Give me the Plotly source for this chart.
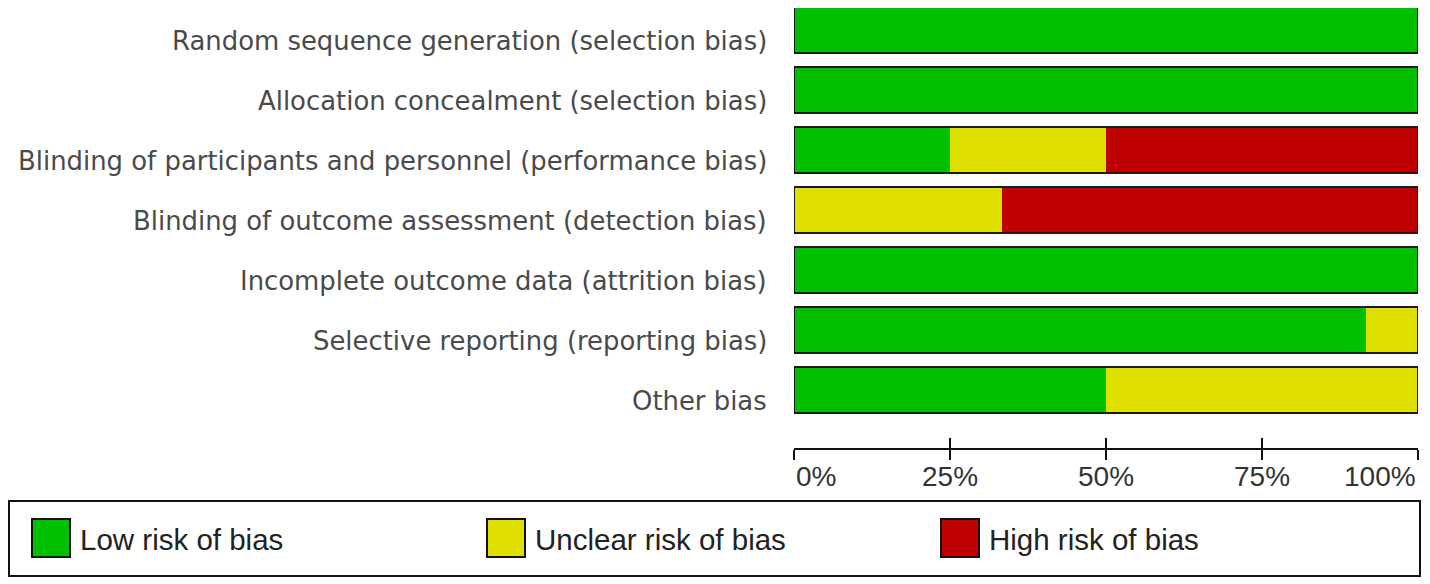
import plotly.graph_objects as go

# page body adds an 8px margin, so the figure is sized and placed to fit 1430x584
OFF = 8
W, H = 1430 - OFF, 584 - OFF

domains = [
    "Random sequence generation (selection bias)",
    "Allocation concealment (selection bias)",
    "Blinding of participants and personnel (performance bias)",
    "Blinding of outcome assessment (detection bias)",
    "Incomplete outcome data (attrition bias)",
    "Selective reporting (reporting bias)",
    "Other bias",
]
low = [100, 100, 25, 0, 100, 91.7, 50]
unclear = [0, 0, 25, 33.3, 0, 8.3, 50]
high = [0, 0, 50, 66.7, 0, 0, 0]

risk_names = ["Low risk of bias", "Unclear risk of bias", "High risk of bias"]
risk_colors = ["#00c000", "#e0e000", "#c00000"]

tick_vals = [0, 25, 50, 75, 100]
tick_text = ["0%", "25%", "50%", "75%", "100%"]

totals = [a + b + c for a, b, c in zip(low, unclear, high)]


def px_x(p):
    return (p - OFF) / W


def px_y(p):
    return (H - (p - OFF)) / H


bar_w = 0.77
fig = go.Figure()
for name, vals, col in zip(risk_names, [low, unclear, high], risk_colors):
    fig.add_trace(go.Bar(
        y=domains, x=vals, orientation="h", name=name,
        marker=dict(color=col, line=dict(width=0)),
        width=bar_w, showlegend=False, hoverinfo="x+y", cliponaxis=False,
    ))

# outline around each whole bar
fig.add_trace(go.Bar(
    y=domains, x=totals, orientation="h", xaxis="x2",
    marker=dict(color="rgba(0,0,0,0)", line=dict(color="#1a1a1a", width=2)),
    width=bar_w, showlegend=False, hoverinfo="skip", cliponaxis=False,
))

# rows are 60px apart, first row centred at y=30 on the page
row_px = 60
top_px, bot_px = OFF, 420
dom_x = [px_x(794), px_x(1418)]
dom_y = [px_y(bot_px), px_y(top_px)]
y_range = [(bot_px - 30) / row_px, (top_px - 30) / row_px]
axis_pos = px_y(449)

axis_common = dict(
    range=[0, 100], domain=dom_x, showgrid=False, zeroline=False,
    showline=True, linecolor="#111111", linewidth=2,
    tickvals=tick_vals, ticklen=10, tickwidth=2, tickcolor="#111111",
    showticklabels=False, anchor="free", position=axis_pos, fixedrange=True,
)

fig.update_layout(
    width=W, height=H,
    margin=dict(l=0, r=0, t=0, b=0),
    paper_bgcolor="white", plot_bgcolor="white",
    barmode="stack", bargap=0,
    xaxis=dict(ticks="outside", **axis_common),
    xaxis2=dict(ticks="inside", overlaying="x", side="bottom", **axis_common),
    yaxis=dict(
        type="category", categoryorder="array", categoryarray=domains,
        range=y_range, domain=dom_y,
        showticklabels=False, showgrid=False, zeroline=False, showline=False,
        fixedrange=True,
    ),
    font=dict(family="DejaVu Sans, sans-serif"),
)

annotations = []
# category labels
for d in domains:
    annotations.append(dict(
        text=d, xref="paper", x=px_x(769), xanchor="right",
        yref="y", y=d, yanchor="middle", yshift=-11, showarrow=False,
        font=dict(family="DejaVu Sans, sans-serif", size=25.9, color="#4a4a4a"),
    ))

# tick labels
for v, t in zip(tick_vals, tick_text):
    anchor = "left" if v == tick_vals[0] else ("right" if v == tick_vals[-1] else "center")
    annotations.append(dict(
        text=t, xref="x", x=v, xanchor=anchor,
        yref="paper", y=px_y(476), yanchor="middle", showarrow=False,
        font=dict(family="Liberation Sans, Arial, sans-serif", size=28, color="#333333"),
    ))

# legend
shapes = [dict(
    type="rect", xref="paper", yref="paper",
    x0=px_x(9), x1=px_x(1420), y0=px_y(576), y1=px_y(501),
    line=dict(color="#111111", width=2), fillcolor="rgba(0,0,0,0)",
)]
leg_y = px_y(538)
for i, (name, col) in enumerate(zip(risk_names, risk_colors)):
    left = 31 + 454.5 * i
    annotations.append(dict(
        text="", xref="paper", x=px_x(left), xanchor="left",
        yref="paper", y=leg_y, yanchor="middle", showarrow=False,
        width=36, height=36, bgcolor=col, bordercolor="#111111", borderwidth=2,
        borderpad=0,
    ))
    annotations.append(dict(
        text=name, xref="paper", x=px_x(left + 47), xanchor="left",
        yref="paper", y=leg_y, yanchor="middle", yshift=-1, showarrow=False,
        font=dict(family="Liberation Sans, Arial, sans-serif", size=29.5, color="#222222"),
    ))

fig.update_layout(annotations=annotations, shapes=shapes)

fig.write_html("out.html")
